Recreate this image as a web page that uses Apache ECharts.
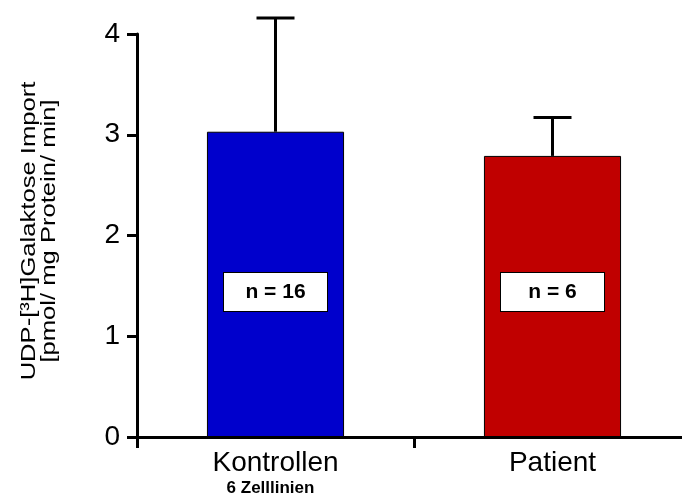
<!DOCTYPE html>
<html>
<head>
<meta charset="utf-8">
<script src="https://cdn.jsdelivr.net/npm/echarts@6/dist/echarts.min.js"></script>
<style>html,body{margin:0;padding:0;background:#fff}#c{width:682px;height:497px}</style>
</head>
<body>
<div id="c"></div>
<script>
const categories = ['Kontrollen', 'Patient'];
const subLabels = ['6 Zelllinien', ''];
const means = [3.03, 2.79];
const upperErr = [4.16, 3.17];
const nLabels = ['n = 16', 'n = 6'];
const barColors = ['#0000cc', '#c00000'];
const yTicks = [0, 1, 2, 3, 4];
const yTitle = 'UDP-[³H]Galaktose Import\n[pmol/ mg Protein/ min]';

const chart = echarts.init(document.getElementById('c'), null, {renderer: 'canvas'});
const font = 'Liberation Sans, Arial, Helvetica, sans-serif';

chart.setOption({
  animation: false,
  backgroundColor: '#fff',
  grid: {left: 137, top: 34, height: 403, width: 554, containLabel: false, outerBoundsMode: 'none'},
  graphic: [{
    type: 'text',
    x: 39,
    y: 231,
    rotation: Math.PI / 2,
    scaleX: 1.28,
    style: {
      text: yTitle,
      font: '20px ' + font,
      fill: '#000',
      lineHeight: 20,
      align: 'center',
      verticalAlign: 'middle'
    }
  }],
  xAxis: {
    type: 'category',
    data: categories,
    boundaryGap: true,
    axisLine: {lineStyle: {color: '#000', width: 3}},
    axisTick: {show: true, length: 11, lineStyle: {color: '#000', width: 3}},
    axisLabel: {
      margin: 11,
      formatter: function (v, i) {
        return subLabels[i] ? '{a|' + v + '}\n{b|' + subLabels[i] + '}' : '{a|' + v + '}';
      },
      rich: {
        a: {fontFamily: font, fontSize: 28, color: '#000', lineHeight: 30},
        b: {fontFamily: font, fontSize: 17, fontWeight: 'bold', color: '#000', lineHeight: 20, padding: [0, 10, 0, 0]}
      }
    },
    splitLine: {show: false}
  },
  yAxis: {
    type: 'value',
    min: yTicks[0],
    max: yTicks[yTicks.length - 1],
    interval: 1,
    axisLine: {show: true, lineStyle: {color: '#000', width: 3}},
    axisTick: {show: true, length: 10, lineStyle: {color: '#000', width: 3}},
    axisLabel: {fontFamily: font, fontSize: 28, color: '#000', margin: 17},
    splitLine: {show: false}
  },
  series: [
    {
      type: 'bar',
      barWidth: '49.5%',
      data: means.map((v, i) => ({value: v, itemStyle: {color: barColors[i]}})),
      itemStyle: {borderColor: '#000', borderWidth: 1},
      z: 2
    },
    {
      type: 'custom',
      z: 3,
      renderItem: function (params, api) {
        const i = api.value(0);
        const base = api.coord([i, api.value(1)]);
        const top = api.coord([i, api.value(2)]);
        const hw = 19;
        return {
          type: 'group',
          children: [
            {type: 'line', shape: {x1: base[0], y1: base[1], x2: top[0], y2: top[1]}, style: {stroke: '#000', lineWidth: 3}},
            {type: 'line', shape: {x1: top[0] - hw, y1: top[1], x2: top[0] + hw, y2: top[1]}, style: {stroke: '#000', lineWidth: 3}}
          ]
        };
      },
      data: means.map((v, i) => [i, v, upperErr[i]])
    },
    {
      type: 'scatter',
      symbolSize: 0,
      z: 4,
      itemStyle: {opacity: 1},
      emphasis: {disabled: true},
      data: nLabels.map((t, i) => ({value: [i, 1.44], name: t})),
      label: {
        show: true,
        position: 'inside',
        formatter: p => p.name,
        fontFamily: font,
        fontSize: 21,
        fontWeight: 'bold',
        color: '#000',
        opacity: 1,
        backgroundColor: '#fff',
        borderColor: '#000',
        borderWidth: 1,
        width: 103,
        height: 38,
        lineHeight: 38,
        align: 'center',
        verticalAlign: 'middle',
        padding: 0
      }
    }
  ]
});
</script>
</body>
</html>
